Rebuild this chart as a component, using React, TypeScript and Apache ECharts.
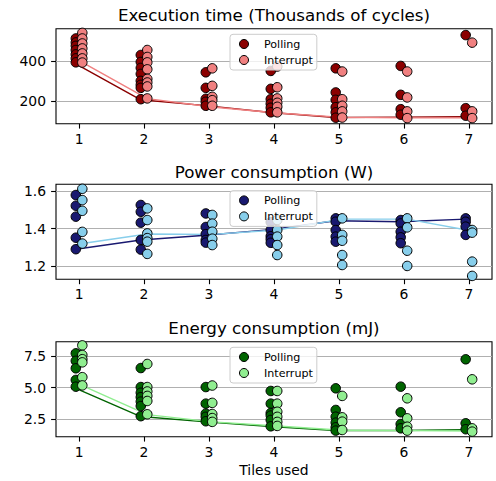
import React, { useEffect, useRef } from "react";
import * as echarts from "echarts";

const tiles = [1, 2, 3, 4, 5, 6, 7];
const xTicks = [1, 2, 3, 4, 5, 6, 7];

// Execution time (thousands of cycles), one list per tile count
const execPolling = [
  [513, 493, 476, 455, 433, 413, 393],
  [430, 395, 365, 335, 300, 280, 265, 208],
  [343, 265, 210, 195, 175],
  [350, 260, 208, 185, 165, 142],
  [363, 242, 205, 168, 142, 115],
  [375, 230, 158, 130],
  [530, 163, 125],
];
const execInterrupt = [
  [541, 513, 488, 463, 438, 413, 392],
  [455, 420, 393, 358, 310, 292, 272, 212],
  [363, 275, 220, 203, 175],
  [372, 268, 212, 190, 170, 142],
  [347, 208, 175, 147, 116],
  [347, 217, 147, 113],
  [492, 147, 113],
];
const execPollingLine = [385, 205, 176, 141, 116, 118, 120];
const execInterruptLine = [393, 211, 169, 139, 117, 114, 114];
const execTicks = [200, 400];

// Power consumption (W)
const powerPolling = [
  [1.579, 1.522, 1.464, 1.352, 1.291],
  [1.526, 1.49, 1.432, 1.34, 1.289],
  [1.481, 1.409, 1.371, 1.34, 1.326],
  [1.435, 1.393, 1.36, 1.344, 1.325],
  [1.455, 1.437, 1.393, 1.358, 1.331],
  [1.446, 1.428, 1.384, 1.354, 1.323],
  [1.455, 1.437, 1.411, 1.367],
];
const powerInterrupt = [
  [1.612, 1.552, 1.495, 1.383, 1.321],
  [1.508, 1.446, 1.375, 1.35, 1.331, 1.266],
  [1.473, 1.427, 1.384, 1.347, 1.313],
  [1.446, 1.393, 1.358, 1.313, 1.26],
  [1.455, 1.367, 1.336, 1.26, 1.207],
  [1.455, 1.407, 1.283, 1.202],
  [1.393, 1.379, 1.225, 1.149],
];
const powerPollingLine = [1.291, 1.34, 1.365, 1.395, 1.442, 1.437, 1.451];
const powerInterruptLine = [1.321, 1.372, 1.37, 1.393, 1.451, 1.451, 1.388];
const powerTicks = [1.2, 1.4, 1.6];

// Energy consumption (mJ)
const energyPolling = [
  [7.71, 7.12, 6.53, 5.61, 5.08],
  [6.55, 5.05, 4.6, 4.25, 3.9, 3.55, 2.75],
  [5.05, 3.74, 2.95, 2.7, 2.35],
  [4.74, 3.74, 3.0, 2.8, 2.45, 1.95],
  [4.95, 3.24, 2.71, 2.24, 1.87, 1.61],
  [5.08, 3.06, 2.13, 1.79],
  [7.24, 2.19, 1.72],
];
const energyInterrupt = [
  [8.34, 7.58, 7.25, 7.0, 5.83, 5.18],
  [6.87, 5.05, 4.7, 4.35, 3.95, 2.9],
  [5.17, 3.8, 2.92, 2.6, 2.3],
  [4.74, 3.74, 3.1, 2.7, 2.3, 1.98],
  [4.35, 2.66, 2.32, 1.66],
  [4.16, 2.58, 1.92, 1.61],
  [5.66, 1.79, 1.53],
];
const energyPollingLine = [4.95, 2.72, 2.3, 1.93, 1.62, 1.62, 1.68];
const energyInterruptLine = [5.17, 2.87, 2.3, 1.98, 1.64, 1.61, 1.58];
const energyTicks = [2.5, 5.0, 7.5];

const titles = [
  "Execution time (Thousands of cycles)",
  "Power consumption (W)",
  "Energy consumption (mJ)",
];
const seriesNames = ["Polling", "Interrupt"];
const xLabel = "Tiles used";

const FONT = "DejaVu Sans";
const OFFSET = 0.05;

const panels = [
  {
    polling: execPolling, interrupt: execInterrupt,
    pLine: execPollingLine, iLine: execInterruptLine,
    ticks: execTicks, min: 85, max: 562, dec: 0,
    colors: ["#8B0000", "#F08080"],
  },
  {
    polling: powerPolling, interrupt: powerInterrupt,
    pLine: powerPollingLine, iLine: powerInterruptLine,
    ticks: powerTicks, min: 1.131, max: 1.636, dec: 1,
    colors: ["#191970", "#87CEEB"],
  },
  {
    polling: energyPolling, interrupt: energyInterrupt,
    pLine: energyPollingLine, iLine: energyInterruptLine,
    ticks: energyTicks, min: 1.13, max: 8.63, dec: 1,
    colors: ["#006400", "#90EE90"],
  },
];

const gridTops = [28.7, 184.3, 341.7];
const titleTops = [6.6, 163.2, 319.2];
const legendTops = [34.3, 190.7, 347.3];

function scatterPoints(groups: number[][], dx: number) {
  return groups.flatMap((vals, i) => vals.map((v) => [tiles[i] + dx, v]));
}
function linePoints(vals: number[], dx: number) {
  return vals.map((v, i) => [tiles[i] + dx, v]);
}

function buildOption() {
  const grid: any[] = [];
  const xAxis: any[] = [];
  const yAxis: any[] = [];
  const title: any[] = [];
  const legend: any[] = [];
  const series: any[] = [];

  panels.forEach((p, i) => {
    grid.push({
      left: 56, right: 4, top: gridTops[i], height: 95,
      show: true, borderColor: "#000", borderWidth: 1.1,
      backgroundColor: "transparent",
    });
    xAxis.push({
      type: "value", gridIndex: i, min: 0.645, max: 7.355,
      axisLine: { show: false },
      axisTick: { show: true, customValues: xTicks, length: 4.9, lineStyle: { color: "#000", width: 1.1 } },
      axisLabel: {
        customValues: xTicks, margin: 8, color: "#000", fontSize: 13.9, fontFamily: FONT,
        formatter: (v: number) => String(Math.round(v)),
      },
      splitLine: { show: false },
      ...(i === 2
        ? {
            name: xLabel, nameLocation: "middle", nameGap: 26,
            nameTextStyle: { color: "#000", fontSize: 13.9, fontFamily: FONT },
          }
        : {}),
    });
    yAxis.push({
      type: "value", gridIndex: i, min: p.min, max: p.max,
      axisLine: { show: false },
      axisTick: { show: true, customValues: p.ticks, length: 4.9, lineStyle: { color: "#000", width: 1.1 } },
      axisLabel: {
        customValues: p.ticks, margin: 10, color: "#000", fontSize: 13.9, fontFamily: FONT,
        formatter: (v: number) => v.toFixed(p.dec),
      },
      splitLine: { show: true, lineStyle: { color: "#b0b0b0", width: 1.1 } },
    });
    title.push({
      text: titles[i], left: 274, top: titleTops[i], textAlign: "center",
      padding: 0,
      textStyle: { color: "#000", fontSize: 16.7, fontWeight: "normal", fontFamily: FONT, lineHeight: 16.7 },
    });
    legend.push({
      orient: "vertical", left: 230, top: legendTops[i],
      padding: [4.2, 4, 4.5, 9], itemGap: 5, itemWidth: 30, itemHeight: 9,
      icon: "circle",
      backgroundColor: "rgba(255,255,255,0.8)", borderColor: "#cccccc", borderWidth: 1, borderRadius: 3,
      textStyle: { color: "#000", fontSize: 11.1, lineHeight: 11, fontFamily: FONT, padding: [0, 0, 0, 0] },
      data: seriesNames.map((n, k) => ({
        name: n,
        itemStyle: { color: p.colors[k], borderColor: "#000", borderWidth: 1 },
      })),
      selectedMode: false,
    });

    series.push({
      name: seriesNames[0] + " trend " + (i + 1), type: "line", xAxisIndex: i, yAxisIndex: i,
      data: linePoints(p.pLine, -OFFSET), showSymbol: false, symbol: "none",
      lineStyle: { color: p.colors[0], width: 1.4 }, z: 1, silent: true,
    });
    series.push({
      name: seriesNames[1] + " trend " + (i + 1), type: "line", xAxisIndex: i, yAxisIndex: i,
      data: linePoints(p.iLine, OFFSET), showSymbol: false, symbol: "none",
      lineStyle: { color: p.colors[1], width: 1.4 }, z: 1, silent: true,
    });
  });

  panels.forEach((p, i) => {
    series.push({
      name: seriesNames[0], type: "scatter", xAxisIndex: i, yAxisIndex: i,
      data: scatterPoints(p.polling, -OFFSET), symbol: "circle", symbolSize: 9.5,
      itemStyle: { color: p.colors[0], borderColor: "#000", borderWidth: 1, opacity: 1 },
      z: 2,
    });
    series.push({
      name: seriesNames[1], type: "scatter", xAxisIndex: i, yAxisIndex: i,
      data: scatterPoints(p.interrupt, OFFSET), symbol: "circle", symbolSize: 9.5,
      itemStyle: { color: p.colors[1], borderColor: "#000", borderWidth: 1, opacity: 1 },
      z: 3,
    });
  });

  return {
    animation: false,
    backgroundColor: "#fff",
    textStyle: { fontFamily: FONT },
    grid, xAxis, yAxis, title, legend, series,
  };
}

export default function App() {
  const ref = useRef<HTMLDivElement>(null);
  useEffect(() => {
    if (!ref.current) return;
    const chart = echarts.init(ref.current, undefined, { renderer: "svg" });
    chart.setOption(buildOption() as any);
    return () => chart.dispose();
  }, []);
  return <div ref={ref} style={{ width: 496, height: 481, position: "absolute", left: 0, top: 0 }} />;
}
